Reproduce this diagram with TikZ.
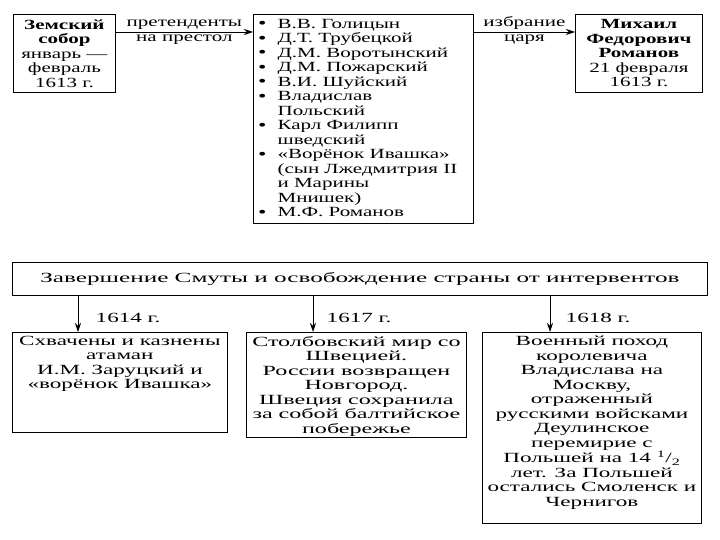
\documentclass[tikz,border=0pt]{standalone}
\usepackage{fontspec}
\setmainfont{Liberation Serif}[FakeStretch=1.5]
\newfontfamily\smutaA{Liberation Serif}[FakeStretch=1.65]
\newfontfamily\smutaB{Liberation Serif}[FakeStretch=1.72]
\newfontfamily\smutaC{Liberation Serif}[FakeStretch=1.8]
\newcommand{\smutabul}{\smash{\raisebox{-0.5pt}{\fontsize{16}{14}\selectfont\textbullet}}}
\usepackage{tikz}
\usetikzlibrary{arrows.meta,positioning,calc}

\begin{document}
\begin{tikzpicture}[x=1pt,y=-1pt,
  every node/.style={font=\fontsize{14}{14.5}\selectfont},
  box/.style={draw,line width=0.8pt,inner sep=0pt},
  txt/.style={align=center,inner sep=0pt},
  arr/.style={-{Stealth[length=9pt,width=6pt]},line width=0.8pt}]
  \useasboundingbox (0,0) rectangle (720,540);

  % upper row
  \node[box,align=center,minimum width=102,minimum height=78,anchor=north west] (zem) at (13,14)
    {\textbf{Земский}\\\textbf{собор}\\январь —\\февраль\\1613 г.};
  \node[box,minimum width=220,minimum height=209,anchor=north west] (cand) at (253,14) {};
  \node[box,align=center,minimum width=127,minimum height=78,anchor=north west] (tsar) at (575,14)
    {\textbf{Михаил}\\\textbf{Федорович}\\\textbf{Романов}\\21 февраля\\1613 г.};

  \node[txt,anchor=north west] (list) at ([xshift=5pt,yshift=-4pt]cand.north west)
    {\begin{tabular}{@{}c@{\hspace{11pt}}l@{}}
      \smutabul & В.В. Голицын\\
      \smutabul & Д.Т. Трубецкой\\
      \smutabul & Д.М. Воротынский\\
      \smutabul & Д.М. Пожарский\\
      \smutabul & В.И. Шуйский\\
      \smutabul & Владислав\\
                & Польский\\
      \smutabul & Карл Филипп\\
                & шведский\\
      \smutabul & «Ворёнок Ивашка»\\
                & (сын Лжедмитрия II\\
                & и Марины\\
                & Мнишек)\\
      \smutabul & М.Ф. Романов
    \end{tabular}};

  \coordinate (z1) at ([yshift=-18pt]zem.north east);
  \draw[arr] (z1) -- node[above,yshift=-1pt]{претенденты} node[below,yshift=1pt]{на престол} (z1 -| cand.west);
  \coordinate (c1) at ([yshift=-18pt]cand.north east);
  \draw[arr] (c1) -- node[above,yshift=-1pt]{избрание} node[below,yshift=1pt]{царя} (c1 -| tsar.west);

  % lower row
  \node[box,minimum width=695,minimum height=33,anchor=north west] (end) at (12,262)
    {\smutaC Завершение Смуты и освобождение страны от интервентов};

  \node[box,minimum width=215,minimum height=100,anchor=north west] (b1) at (12,332) {};
  \node[box,minimum width=220,minimum height=105,anchor=north west] (b2) at (246,332) {};
  \node[box,minimum width=219,minimum height=191,anchor=north west] (b3) at (482,332) {};

  \node[txt,anchor=north,font=\fontsize{14}{14.5}\smutaA] (t1) at ([yshift=-4pt]b1.north)
    {Схвачены и казнены\\атаман\\И.М. Заруцкий и\\«ворёнок Ивашка»};
  \node[txt,anchor=north,font=\fontsize{14}{14.5}\smutaB] (t2) at ([yshift=-4pt]b2.north)
    {Столбовский мир со\\Швецией.\\России возвращен\\Новгород.\\Швеция сохранила\\за собой балтийское\\побережье};
  \node[txt,anchor=north,font=\fontsize{14}{14.5}\smutaA] (t3) at ([yshift=-4pt]b3.north)
    {Военный поход\\королевича\\Владислава на\\Москву,\\отраженный\\русскими войсками\\Деулинское\\перемирие с\\Польшей на 14 \textsuperscript{1}/\textsubscript{2}\\лет. За Польшей\\остались Смоленск и\\Чернигов};

  \coordinate (a1) at ([xshift=66pt]b1.north west);
  \coordinate (a2) at ([xshift=67pt]b2.north west);
  \coordinate (a3) at ([xshift=68pt]b3.north west);
  \tikzset{every node/.style={font=\fontsize{14}{14.5}\smutaA}}
  \draw[arr] (a1 |- end.south) -- node[pos=0.6,right=14pt]{1614 г.} (a1);
  \draw[arr] (a2 |- end.south) -- node[pos=0.6,right=10pt]{1617 г.} (a2);
  \draw[arr] (a3 |- end.south) -- node[pos=0.6,right=12pt]{1618 г.} (a3);
\end{tikzpicture}
\end{document}
